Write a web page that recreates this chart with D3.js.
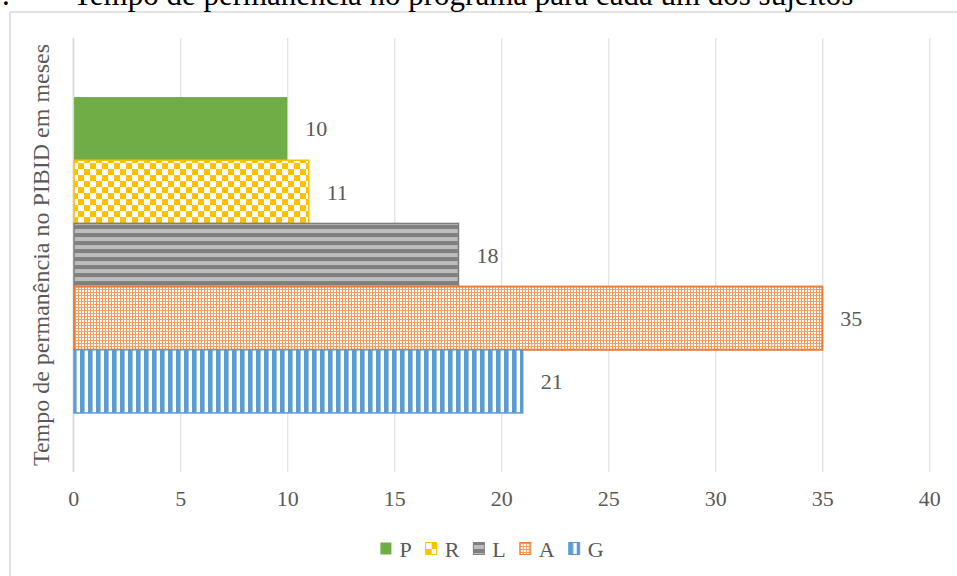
<!DOCTYPE html>
<html>
<head>
<meta charset="utf-8">
<script src="https://cdn.jsdelivr.net/npm/d3@7"></script>
<style>
  body { margin: 0; background: #fff; }
  text { font-family: "Liberation Serif", "Times New Roman", serif; fill: #595959; }
</style>
</head>
<body>
<svg id="chart" width="957" height="576"></svg>
<script>
// data
const subjects = ["P", "R", "L", "A", "G"]
const months = [10, 11, 18, 35, 21]
const xTicks = [0, 5, 10, 15, 20, 25, 30, 35, 40]
const colors = ["#70AD47", "#FFC000", "#7F7F7F", "#ED7D31", "#5B9BD5"]

const titleText = "Tempo de permanência no programa para cada um dos sujeitos"
const yTitle = "Tempo de permanência no PIBID em meses"

const width = 957, height = 576
const plot = { left: 73.3, right: 929.3, top: 38, bottom: 472 }

const svg = d3.select("#chart")
const defs = svg.append("defs")

// fill patterns, one per subject (P is plain)
const patR = defs.append("pattern").attr("id", "pat-R")
  .attr("patternUnits", "userSpaceOnUse").attr("width", 12).attr("height", 12)
patR.append("rect").attr("width", 12).attr("height", 12).attr("fill", "#fff")
patR.append("rect").attr("width", 6).attr("height", 6).attr("fill", colors[1])
patR.append("rect").attr("x", 6).attr("y", 6).attr("width", 6).attr("height", 6).attr("fill", colors[1])

const patL = defs.append("pattern").attr("id", "pat-L")
  .attr("patternUnits", "userSpaceOnUse").attr("width", 8).attr("height", 8)
patL.append("rect").attr("width", 8).attr("height", 8).attr("fill", "#BDBDBD")
patL.append("rect").attr("width", 8).attr("height", 4).attr("fill", colors[2])

const patA = defs.append("pattern").attr("id", "pat-A")
  .attr("patternUnits", "userSpaceOnUse").attr("width", 3).attr("height", 3)
patA.append("rect").attr("width", 3).attr("height", 3).attr("fill", "#F29A5C")
patA.append("rect").attr("x", 1).attr("y", 1).attr("width", 2).attr("height", 2).attr("fill", "#fff")

const patG = defs.append("pattern").attr("id", "pat-G")
  .attr("patternUnits", "userSpaceOnUse").attr("width", 8).attr("height", 8)
patG.append("rect").attr("width", 8).attr("height", 8).attr("fill", "#fff")
patG.append("rect").attr("width", 4.6).attr("height", 8).attr("fill", colors[4])

const fillFor = (s, i) => s == "P" ? colors[i] : `url(#pat-${s})`

// chart area border
svg.append("rect")
  .attr("x", 10).attr("y", 12)
  .attr("width", width).attr("height", height)
  .attr("fill", "none").attr("stroke", "#D9D9D9").attr("stroke-width", 1.5)

// title, cut by the top edge
svg.append("text").attr("x", 2).attr("y", 5)
  .style("font-size", "31px").style("fill", "#000").text(".")
svg.append("text").attr("x", 73).attr("y", 5)
  .style("font-size", "31px").style("fill", "#000").text(titleText)

const x = d3.scaleLinear().domain([0, 40]).range([plot.left, plot.right])

// one category, bars of the five subjects stacked inside it
const yCat = d3.scaleBand().domain(["sujeitos"])
  .range([plot.top, plot.bottom]).paddingInner(0).paddingOuter(0.187)
const ySub = d3.scaleBand().domain(subjects)
  .range([0, yCat.bandwidth()]).padding(0)

// gridlines and tick labels
const xAxis = svg.append("g")
  .attr("transform", `translate(0, ${plot.bottom})`)
  .call(d3.axisBottom(x).tickValues(xTicks).tickSize(-(plot.bottom - plot.top)).tickPadding(26))
xAxis.select(".domain").remove()
xAxis.selectAll(".tick line").attr("stroke", "#D9D9D9").attr("stroke-width", 1)
xAxis.selectAll(".tick text")
  .attr("dy", "0.35em")
  .style("font-size", "22px")
  .style("font-family", '"Liberation Serif", serif')
  .attr("fill", "#595959")

// vertical axis line
svg.append("line")
  .attr("x1", x(0)).attr("x2", x(0))
  .attr("y1", plot.top).attr("y2", plot.bottom)
  .attr("stroke", "#D9D9D9").attr("stroke-width", 1.5)

const data = subjects.map((s, i) => ({ s: s, v: months[i], i: i }))

const group = svg.append("g").attr("transform", `translate(0, ${yCat("sujeitos")})`)

group.selectAll(".bar")
  .data(data).enter()
    .append("rect")
      .attr("class", "bar")
      .attr("x", x(0) + 0.75)
      .attr("y", d => ySub(d.s))
      .attr("width", d => x(d.v) - x(0) - 0.75)
      .attr("height", ySub.bandwidth())
      .attr("fill", d => fillFor(d.s, d.i))
      .attr("stroke", d => d.s == "P" ? "none" : colors[d.i])
      .attr("stroke-width", d => d.s == "A" ? 2 : 1.5)

group.selectAll(".label")
  .data(data).enter()
    .append("text")
      .attr("class", "label")
      .attr("x", d => x(d.v) + 18)
      .attr("y", d => ySub(d.s) + ySub.bandwidth() / 2)
      .attr("dy", "0.35em")
      .style("font-size", "22px")
      .text(d => d.v)

// axis title
svg.append("text")
  .attr("transform", `translate(49, ${(plot.top + plot.bottom) / 2}) rotate(-90)`)
  .attr("text-anchor", "middle")
  .style("font-size", "24px")
  .text(yTitle)

// legend
const legend = svg.append("g")
const items = legend.selectAll(".item")
  .data(data).enter()
    .append("g").attr("class", "item")
items.append("rect")
  .attr("width", 11).attr("height", 12)
  .attr("y", -6.5)
  .attr("fill", d => fillFor(d.s, d.i))
  .attr("stroke", d => d.s == "P" ? "none" : colors[d.i])
  .attr("stroke-width", 1)
items.append("text")
  .attr("x", 19).attr("dy", "0.35em")
  .style("font-size", "22px")
  .text(d => d.s)

let offset = 0
items.each(function() {
  const w = 19 + this.querySelector("text").getComputedTextLength()
  d3.select(this).attr("transform", `translate(${offset}, 0)`)
  offset += w + 14
})
const legendWidth = offset - 14
legend.attr("transform", `translate(${492 - legendWidth / 2}, 549)`)
</script>
</body>
</html>
